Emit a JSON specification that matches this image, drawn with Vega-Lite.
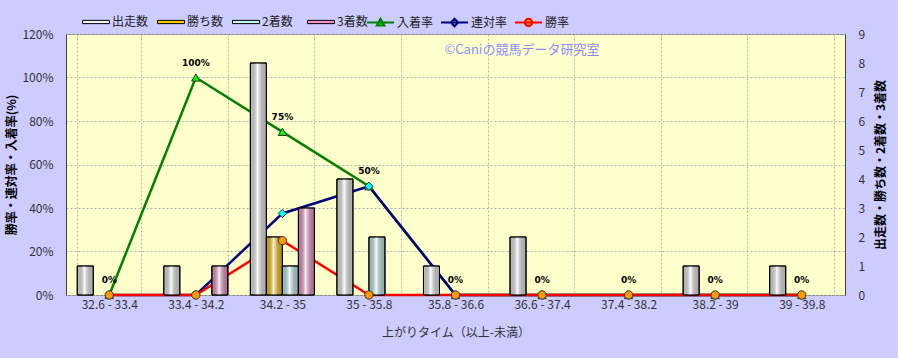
{
  "$schema": "https://vega.github.io/schema/vega-lite/v6.json",
  "width": 779,
  "height": 261,
  "autosize": {"type": "none"},
  "padding": {"left": 66, "top": 34, "right": 53, "bottom": 63},
  "background": "#CCCCFF",
  "config": {
    "view": {"fill": "#FFFFCC", "stroke": "#808080", "strokeWidth": 1},
    "font": "Noto Sans CJK JP",
    "axis": {
      "labelFont": "Noto Sans CJK JP",
      "labelFontSize": 12,
      "labelColor": "#333333",
      "titleFont": "Noto Sans CJK JP",
      "titleFontSize": 12,
      "titleFontWeight": "bold",
      "titleColor": "#000000",
      "gridColor": "#B0B0B0",
      "gridDash": [2, 2],
      "gridWidth": 1,
      "domainColor": "#404040",
      "tickColor": "#404040"
    },
    "legend": {
      "labelFont": "Noto Sans CJK JP",
      "labelFontSize": 12,
      "labelColor": "#222222"
    }
  },
  "datasets": {
    "counts": [
      {"cat": "32.6 - 33.4", "series": "出走数", "count": 1},
      {"cat": "33.4 - 34.2", "series": "出走数", "count": 1},
      {"cat": "34.2 - 35", "series": "出走数", "count": 8},
      {"cat": "35 - 35.8", "series": "出走数", "count": 4},
      {"cat": "35.8 - 36.6", "series": "出走数", "count": 1},
      {"cat": "36.6 - 37.4", "series": "出走数", "count": 2},
      {"cat": "37.4 - 38.2", "series": "出走数", "count": 0},
      {"cat": "38.2 - 39", "series": "出走数", "count": 1},
      {"cat": "39 - 39.8", "series": "出走数", "count": 1},
      {"cat": "32.6 - 33.4", "series": "勝ち数", "count": 0},
      {"cat": "33.4 - 34.2", "series": "勝ち数", "count": 0},
      {"cat": "34.2 - 35", "series": "勝ち数", "count": 2},
      {"cat": "35 - 35.8", "series": "勝ち数", "count": 0},
      {"cat": "35.8 - 36.6", "series": "勝ち数", "count": 0},
      {"cat": "36.6 - 37.4", "series": "勝ち数", "count": 0},
      {"cat": "37.4 - 38.2", "series": "勝ち数", "count": 0},
      {"cat": "38.2 - 39", "series": "勝ち数", "count": 0},
      {"cat": "39 - 39.8", "series": "勝ち数", "count": 0},
      {"cat": "32.6 - 33.4", "series": "2着数", "count": 0},
      {"cat": "33.4 - 34.2", "series": "2着数", "count": 0},
      {"cat": "34.2 - 35", "series": "2着数", "count": 1},
      {"cat": "35 - 35.8", "series": "2着数", "count": 2},
      {"cat": "35.8 - 36.6", "series": "2着数", "count": 0},
      {"cat": "36.6 - 37.4", "series": "2着数", "count": 0},
      {"cat": "37.4 - 38.2", "series": "2着数", "count": 0},
      {"cat": "38.2 - 39", "series": "2着数", "count": 0},
      {"cat": "39 - 39.8", "series": "2着数", "count": 0},
      {"cat": "32.6 - 33.4", "series": "3着数", "count": 0},
      {"cat": "33.4 - 34.2", "series": "3着数", "count": 1},
      {"cat": "34.2 - 35", "series": "3着数", "count": 3},
      {"cat": "35 - 35.8", "series": "3着数", "count": 0},
      {"cat": "35.8 - 36.6", "series": "3着数", "count": 0},
      {"cat": "36.6 - 37.4", "series": "3着数", "count": 0},
      {"cat": "37.4 - 38.2", "series": "3着数", "count": 0},
      {"cat": "38.2 - 39", "series": "3着数", "count": 0},
      {"cat": "39 - 39.8", "series": "3着数", "count": 0}
    ],
    "rates": [
      {"cat": "32.6 - 33.4", "series": "入着率", "rate": 0},
      {"cat": "33.4 - 34.2", "series": "入着率", "rate": 1},
      {"cat": "34.2 - 35", "series": "入着率", "rate": 0.75},
      {"cat": "35 - 35.8", "series": "入着率", "rate": 0.5},
      {"cat": "35.8 - 36.6", "series": "入着率", "rate": 0},
      {"cat": "36.6 - 37.4", "series": "入着率", "rate": 0},
      {"cat": "37.4 - 38.2", "series": "入着率", "rate": 0},
      {"cat": "38.2 - 39", "series": "入着率", "rate": 0},
      {"cat": "39 - 39.8", "series": "入着率", "rate": 0},
      {"cat": "32.6 - 33.4", "series": "連対率", "rate": 0},
      {"cat": "33.4 - 34.2", "series": "連対率", "rate": 0},
      {"cat": "34.2 - 35", "series": "連対率", "rate": 0.375},
      {"cat": "35 - 35.8", "series": "連対率", "rate": 0.5},
      {"cat": "35.8 - 36.6", "series": "連対率", "rate": 0},
      {"cat": "36.6 - 37.4", "series": "連対率", "rate": 0},
      {"cat": "37.4 - 38.2", "series": "連対率", "rate": 0},
      {"cat": "38.2 - 39", "series": "連対率", "rate": 0},
      {"cat": "39 - 39.8", "series": "連対率", "rate": 0},
      {"cat": "32.6 - 33.4", "series": "勝率", "rate": 0},
      {"cat": "33.4 - 34.2", "series": "勝率", "rate": 0},
      {"cat": "34.2 - 35", "series": "勝率", "rate": 0.25},
      {"cat": "35 - 35.8", "series": "勝率", "rate": 0},
      {"cat": "35.8 - 36.6", "series": "勝率", "rate": 0},
      {"cat": "36.6 - 37.4", "series": "勝率", "rate": 0},
      {"cat": "37.4 - 38.2", "series": "勝率", "rate": 0},
      {"cat": "38.2 - 39", "series": "勝率", "rate": 0},
      {"cat": "39 - 39.8", "series": "勝率", "rate": 0}
    ],
    "note": [
      {"cat": "35.8 - 36.6", "rate": 1.13, "label": "©Caniの競馬データ研究室"}
    ]
  },
  "encoding": {
    "x": {
      "field": "cat",
      "type": "nominal",
      "sort": ["32.6 - 33.4", "33.4 - 34.2", "34.2 - 35", "35 - 35.8", "35.8 - 36.6", "36.6 - 37.4", "37.4 - 38.2", "38.2 - 39", "39 - 39.8"],
      "scale": {"paddingInner": 0.26, "paddingOuter": 0.13},
      "title": "上がりタイム（以上-未満）",
      "axis": {
        "labelAngle": 0,
        "tickBand": "extent",
        "grid": true,
        "ticks": false,
        "domain": false,
        "labelPadding": 4,
        "titlePadding": 17,
        "titleFontWeight": "normal",
        "titleColor": "#333333"
      }
    }
  },
  "layer": [
    {
      "data": {"name": "rates"},
      "encoding": {
        "y": {
          "field": "rate",
          "type": "quantitative",
          "scale": {"domain": [0, 1.2]},
          "title": "勝率・連対率・入着率(%)",
          "axis": {
            "orient": "left",
            "format": ".0%",
            "values": [0, 0.2, 0.4, 0.6, 0.8, 1.0, 1.2],
            "grid": true,
            "ticks": false,
            "labelPadding": 13,
            "titlePadding": 3,
            "titleAngle": 270
          }
        }
      },
      "layer": [
        {
          "mark": {"type": "line", "strokeWidth": 2.5},
          "encoding": {
            "stroke": {
              "field": "series",
              "type": "nominal",
              "scale": {"domain": ["入着率", "連対率", "勝率"], "range": ["#008000", "#000080", "#FF0000"]},
              "legend": {
                "title": null,
                "orient": "none",
                "legendX": 300,
                "legendY": -26,
                "direction": "horizontal",
                "columns": 3,
                "columnPadding": 3,
                "gridAlign": "none",
                "symbolSize": 729,
                "symbolStrokeWidth": 2,
                "labelOffset": 2,
                "symbolType": "M-1,0H1M-0.25,0.2L0,-0.25L0.25,0.2Z",
                "encode": {
                  "symbols": {
                    "update": {
                      "fill": {"signal": "datum.value === '入着率' ? '#00FF00' : datum.value === '連対率' ? '#00FFFF' : '#FF9900'"},
                      "shape": {"signal": "datum.value === '入着率' ? 'M-1,0H1M-0.28,0.22L0,-0.28L0.28,0.22Z' : datum.value === '連対率' ? 'M-1,0H1M0,-0.28L0.28,0L0,0.28L-0.28,0Z' : 'M-1,0H1M-0.27,0A0.27,0.27,0,1,0,0.27,0A0.27,0.27,0,1,0,-0.27,0Z'"}
                    }
                  }
                }
              }
            }
          }
        },
        {
          "transform": [{"filter": "datum.series === '入着率'"}],
          "mark": {"type": "text", "dy": -15, "fontSize": 9, "fontWeight": "bold", "font": "DejaVu Sans", "color": "#000000"},
          "encoding": {
            "text": {"field": "rate", "type": "quantitative", "format": ".0%"}
          }
        },
        {
          "data": {"name": "note"},
          "mark": {"type": "text", "align": "left", "baseline": "middle", "dx": -11, "dy": 1, "fontSize": 13, "color": "#8C8CFF"},
          "encoding": {
            "text": {"field": "label", "type": "nominal"}
          }
        }
      ]
    },
    {
      "data": {"name": "counts"},
      "transform": [{"filter": "datum.count > 0"}],
      "encoding": {
        "xOffset": {
          "field": "series",
          "type": "nominal",
          "scale": {"domain": ["出走数", "勝ち数", "2着数", "3着数"], "paddingInner": 0, "paddingOuter": 0}
        },
        "y": {
          "field": "count",
          "type": "quantitative",
          "scale": {"domain": [0, 9]},
          "title": "出走数・勝ち数・2着数・3着数",
          "axis": {
            "orient": "right",
            "values": [0, 1, 2, 3, 4, 5, 6, 7, 8, 9],
            "grid": false,
            "ticks": false,
            "labelAlign": "left",
            "labelPadding": 13,
            "titlePadding": 11,
            "titleAngle": 270,
            "titleBaseline": "top"
          }
        }
      },
      "layer": [
        {
          "mark": {"type": "bar", "stroke": "#000000", "strokeWidth": 1},
          "encoding": {
            "fill": {
              "field": "series",
              "type": "nominal",
              "scale": {"domain": ["出走数", "勝ち数", "2着数", "3着数"], "range": ["#F2F2F2", "#FFC800", "#C4F4F4", "#F294C8"]},
              "legend": {
                "title": null,
                "orient": "none",
                "legendX": 16,
                "legendY": -26,
                "direction": "horizontal",
                "columns": 4,
                "columnPadding": 6,
                "gridAlign": "all",
                "symbolType": "M-1,-0.12H1V0.12H-1Z",
                "symbolSize": 729,
                "symbolStrokeColor": "#000000",
                "symbolStrokeWidth": 1,
                "labelOffset": 2
              }
            }
          }
        },
        {
          "mark": {
            "type": "bar",
            "stroke": "#000000",
            "strokeWidth": 1,
            "fill": {
              "gradient": "linear",
              "x1": 0, "y1": 0, "x2": 1, "y2": 0,
              "stops": [
                {"offset": 0, "color": "rgba(0,0,0,0.18)"},
                {"offset": 0.45, "color": "rgba(255,255,255,0.8)"},
                {"offset": 1, "color": "rgba(0,0,0,0.25)"}
              ]
            }
          }
        }
      ]
    },
    {
      "data": {"name": "rates"},
      "mark": {"type": "point", "filled": true, "stroke": "#333333", "strokeWidth": 1, "opacity": 1},
      "encoding": {
        "y": {
          "field": "rate",
          "type": "quantitative",
          "scale": {"domain": [0, 1.2]},
          "axis": null
        },
        "shape": {
          "field": "series",
          "type": "nominal",
          "scale": {"domain": ["入着率", "連対率", "勝率"], "range": ["triangle-up", "diamond", "circle"]},
          "legend": null
        },
        "fill": {
          "field": "series",
          "type": "nominal",
          "scale": {"domain": ["入着率", "連対率", "勝率"], "range": ["#00FF00", "#00FFFF", "#FF9900"]},
          "legend": null
        },
        "size": {"value": 70}
      }
    }
  ],
  "resolve": {"scale": {"y": "independent", "fill": "independent", "shape": "independent"}}
}
